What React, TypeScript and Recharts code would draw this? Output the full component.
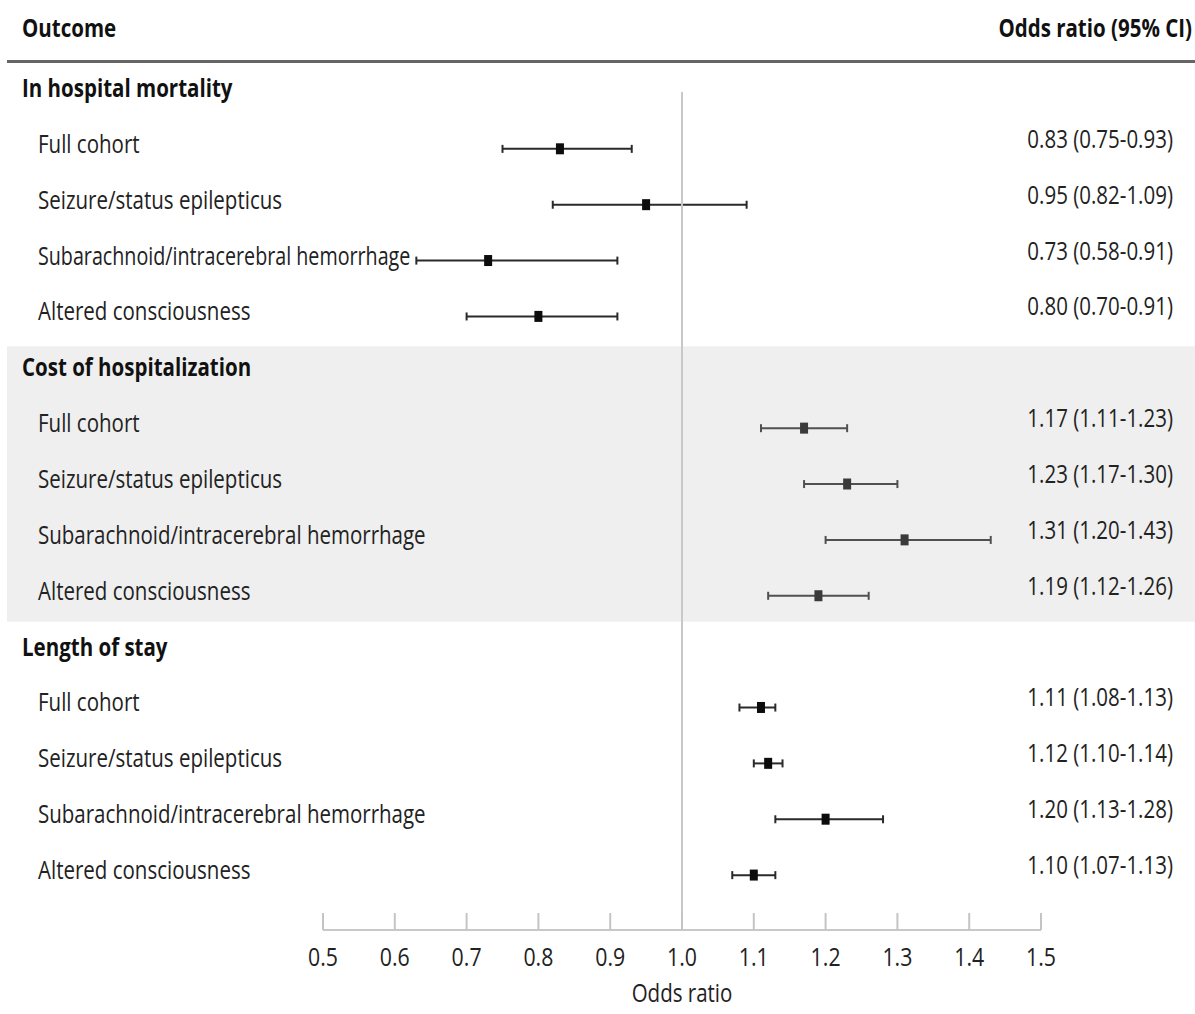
import React from 'react';
import { ComposedChart, Bar, Line, XAxis, YAxis, ReferenceArea, ReferenceLine } from 'recharts';

// ---------- data ----------
const groups = ['In hospital mortality', 'Cost of hospitalization', 'Length of stay'];
const subgroups = [
  'Full cohort',
  'Seizure/status epilepticus',
  'Subarachnoid/intracerebral hemorrhage',
  'Altered consciousness',
];
const mortalityOR = [0.83, 0.95, 0.73, 0.8];
const mortalityLo = [0.75, 0.82, 0.63, 0.7];
const mortalityHi = [0.93, 1.09, 0.91, 0.91];
const mortalityText = ['0.83 (0.75-0.93)', '0.95 (0.82-1.09)', '0.73 (0.58-0.91)', '0.80 (0.70-0.91)'];

const costOR = [1.17, 1.23, 1.31, 1.19];
const costLo = [1.11, 1.17, 1.2, 1.12];
const costHi = [1.23, 1.3, 1.43, 1.26];
const costText = ['1.17 (1.11-1.23)', '1.23 (1.17-1.30)', '1.31 (1.20-1.43)', '1.19 (1.12-1.26)'];

const losOR = [1.11, 1.12, 1.2, 1.1];
const losLo = [1.08, 1.1, 1.13, 1.07];
const losHi = [1.13, 1.14, 1.28, 1.13];
const losText = ['1.11 (1.08-1.13)', '1.12 (1.10-1.14)', '1.20 (1.13-1.28)', '1.10 (1.07-1.13)'];

const xTicks = [0.5, 0.6, 0.7, 0.8, 0.9, 1.0, 1.1, 1.2, 1.3, 1.4, 1.5];
const xDomain = [0.5, 1.5];
const nullValue = 1.0;
const headerLeft = 'Outcome';
const headerRight = 'Odds ratio (95% CI)';
const xTitle = 'Odds ratio';

// ---------- table built from arrays ----------
type Row = {
  id: string;
  label: string;
  header: boolean;
  shaded: boolean;
  or?: number | null;
  ci?: [number, number] | null;
  text?: string;
};

const seriesSets = [
  { or: mortalityOR, lo: mortalityLo, hi: mortalityHi, text: mortalityText },
  { or: costOR, lo: costLo, hi: costHi, text: costText },
  { or: losOR, lo: losLo, hi: losHi, text: losText },
];

const rows: Row[] = [];
groups.forEach((g, gi) => {
  const shaded = gi === 1;
  rows.push({ id: `g${gi}`, label: g, header: true, shaded, or: null, ci: null });
  subgroups.forEach((s, si) => {
    const set = seriesSets[gi];
    rows.push({
      id: `g${gi}-${si}`,
      label: s,
      header: false,
      shaded,
      or: set.or[si],
      ci: [set.lo[si], set.hi[si]],
      text: set.text[si],
    });
  });
});
const rowById: Record<string, Row> = {};
rows.forEach((r) => (rowById[r.id] = r));

// ---------- layout ----------
const W = 1195;
const H = 1014;
const MARGIN = { top: 65, right: 154, bottom: 0, left: 0 };
const Y_AXIS_W = 323;
const X_AXIS_H = 84;
const ROW_PAD_BOTTOM = 27;
const ROW_H = (H - MARGIN.top - X_AXIS_H - ROW_PAD_BOTTOM) / rows.length;
const PLOT_W = W - MARGIN.left - MARGIN.right - Y_AXIS_W;
const SX = 0.82;
const FONT = '"Open Sans", "DejaVu Sans", sans-serif';
const LABEL_X = 38;
const LONG_LABEL_PX = 380; // natural width of the longest label

function valueToPx(v: number) {
  return MARGIN.left + Y_AXIS_W + ((v - xDomain[0]) / (xDomain[1] - xDomain[0])) * PLOT_W;
}

function SText(props: any) {
  const { x, y, anchor = 'start', size = 25, weight = 400, fill = '#1e1e1e', fitWidth, children } = props;
  const extra: any = {};
  if (fitWidth) {
    extra.textLength = fitWidth / SX;
    extra.lengthAdjust = 'spacingAndGlyphs';
  }
  return (
    <text
      transform={`translate(${x},${y}) scale(${SX},1)`}
      textAnchor={anchor}
      fontSize={size}
      fontWeight={weight}
      fill={fill}
      fontFamily={FONT}
      {...extra}
    >
      {children}
    </text>
  );
}

function RowTick(props: any) {
  const { y, payload } = props;
  const row = rowById[payload.value];
  if (!row) return null;
  let fit: number | undefined;
  if (!row.header && row.ci) {
    const avail = valueToPx(row.ci[0]) - 6 - LABEL_X;
    if (row.label.length > 30 && avail < LONG_LABEL_PX) fit = avail;
  }
  return (
    <g>
      <SText
        x={row.header ? 22 : LABEL_X}
        y={y + 4}
        weight={row.header ? 700 : 400}
        fill={row.header ? '#111' : '#222'}
        fitWidth={fit}
      >
        {row.label}
      </SText>
      {row.text ? (
        <SText x={1173} y={y - 1} anchor="end" size={25} fill="#222">
          {row.text}
        </SText>
      ) : null}
    </g>
  );
}

function XTick(props: any) {
  const { x, y, payload } = props;
  return (
    <g>
      <line x1={x} x2={x} y1={y - 17} y2={y} stroke="#c4c4c4" strokeWidth={2} />
      <SText x={x} y={y + 36} anchor="middle" size={26} fill="#222">
        {Number(payload.value).toFixed(1)}
      </SText>
    </g>
  );
}

function AxisTitle(props: any) {
  const vb = props.viewBox || {};
  return (
    <SText x={vb.x + vb.width / 2} y={vb.y + 72} anchor="middle" size={25} fill="#222">
      {xTitle}
    </SText>
  );
}

function CiShape(props: any) {
  const { x, y, width, height, payload } = props;
  if (!payload || !payload.ci) return null;
  const cy = y + height / 2;
  const c = payload.shaded ? '#505050' : '#2a2a2a';
  return (
    <g stroke={c} strokeWidth={2}>
      <line x1={x} x2={x + width} y1={cy} y2={cy} />
      <line x1={x} x2={x} y1={cy - 4} y2={cy + 4} />
      <line x1={x + width} x2={x + width} y1={cy - 4} y2={cy + 4} />
    </g>
  );
}

function Square(props: any) {
  const { cx, cy, payload } = props;
  if (!payload || payload.or == null || cx == null || cy == null) return null;
  const c = payload.shaded ? '#3a3a3a' : '#0c0c0c';
  return <rect x={cx - 4} y={cy - 5.5} width={8} height={11} fill={c} />;
}

export default function App() {
  return (
    <div style={{ position: 'absolute', left: 0, top: 0, width: W, height: H, background: '#fff' }}>
      <ComposedChart width={W} height={H} data={rows} layout="vertical" margin={MARGIN} barCategoryGap={0}>
        <ReferenceArea
          y1="g1"
          y2="g1-3"
          ifOverflow="visible"
          shape={(p: any) => <rect x={7} y={p.y + 2} width={W - 7} height={p.height - 4} fill="#efefef" />}
        />
        <XAxis
          type="number"
          dataKey="or"
          domain={xDomain}
          ticks={xTicks}
          allowDataOverflow
          height={X_AXIS_H}
          tickSize={0}
          tickMargin={0}
          tickLine={false}
          axisLine={{ stroke: '#c8c8c8', strokeWidth: 2 }}
          tick={<XTick />}
          interval={0}
          label={<AxisTitle />}
        />
        <YAxis
          type="category"
          dataKey="id"
          width={Y_AXIS_W}
          axisLine={false}
          tickLine={false}
          tick={<RowTick />}
          interval={0}
          padding={{ top: 0, bottom: ROW_PAD_BOTTOM }}
        />
        <ReferenceLine
          x={nullValue}
          ifOverflow="visible"
          shape={(p: any) => (
            <line
              x1={p.x1}
              x2={p.x2}
              y1={Math.min(p.y1, p.y2) + ROW_H / 2 - 1}
              y2={Math.max(p.y1, p.y2)}
              stroke="#c8c8c8"
              strokeWidth={2}
            />
          )}
        />
        <Bar dataKey="ci" barSize={12} shape={<CiShape />} isAnimationActive={false} />
        <Line
          dataKey="or"
          stroke="none"
          dot={<Square />}
          activeDot={false}
          isAnimationActive={false}
          connectNulls={false}
        />
      </ComposedChart>
      <svg
        width={W}
        height={H}
        style={{ position: 'absolute', left: 0, top: 0, pointerEvents: 'none' }}
      >
        <SText x={22} y={37} weight={700} size={25} fill="#111">
          {headerLeft}
        </SText>
        <SText x={1192} y={37} anchor="end" weight={700} size={25} fill="#111">
          {headerRight}
        </SText>
        <line x1={7} x2={W} y1={61.5} y2={61.5} stroke="#666" strokeWidth={3} />
      </svg>
    </div>
  );
}
